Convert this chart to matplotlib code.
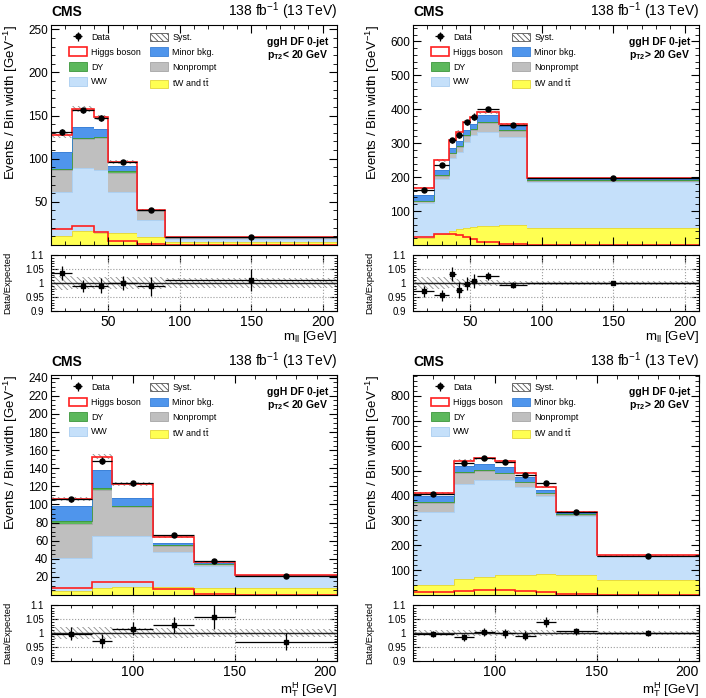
import numpy as np
import matplotlib
matplotlib.use('Agg')
import matplotlib.pyplot as plt
from matplotlib.patches import Patch
from matplotlib.ticker import MultipleLocator, FixedLocator

plt.rcParams['font.family'] = ['Liberation Sans', 'DejaVu Sans']
plt.rcParams['mathtext.fontset'] = 'custom'
plt.rcParams['mathtext.rm'] = 'Liberation Sans'
plt.rcParams['mathtext.it'] = 'Liberation Sans:italic'
plt.rcParams['mathtext.bf'] = 'Liberation Sans:bold'
plt.rcParams['hatch.linewidth'] = 0.6

# ---- top left : m_ll, pT2 < 20 GeV
tl_edges = [10, 25, 40, 50, 70, 90, 210]
tl_tw = [11, 16, 14, 13.5, 9.5, 3]
tl_ww = [50, 73, 73, 47.5, 20, 4.5]
tl_nonprompt = [26, 34, 37, 22.5, 9.5, 1]
tl_dy = [1.5, 1.5, 1.5, 2.5, 1, 0.2]
tl_minor = [19.5, 12.5, 9.5, 6, 0.5, 0.3]
tl_higgs = [19, 21, 13, 4.5, 0.5, 0.5]
tl_higgs_line = [19, 22, 14.5, 5, 1.5, 0.3]
tl_data = [131, 156, 147, 96, 40.5, 9.5]
tl_ratio = [1.035, 0.988, 0.991, 1.0, 0.988, 1.012]
tl_ratio_err = [0.026, 0.021, 0.026, 0.025, 0.035, 0.039]
tl_syst = [0.025, 0.022, 0.022, 0.022, 0.02, 0.018]

# ---- top right : m_ll, pT2 > 20 GeV
tr_edges = [10, 25, 35, 40, 45, 50, 55, 70, 90, 210]
tr_tw = [22, 33, 40, 46, 50, 53, 56, 58, 49]
tr_ww = [102, 160, 216, 228, 252, 272, 278, 259, 136]
tr_nonprompt = [5, 11, 14, 15, 18, 15, 24, 20, 4]
tr_dy = [2, 2, 2, 3, 3, 3, 5, 2, 1]
tr_minor = [15, 16, 14, 15, 17, 14, 21, 12, 3]
tr_higgs = [22, 27, 22, 26, 22, 19, 7, 6, 4]
tr_higgs_line = [25, 31, 31, 28, 25, 17, 10, 3, 1]
tr_data = [162, 237, 308, 324, 361, 378, 401, 354, 197]
tr_ratio = [0.970, 0.956, 1.032, 0.975, 0.998, 1.007, 1.025, 0.994, 1.0]
tr_ratio_err = [0.019, 0.02, 0.026, 0.028, 0.022, 0.025, 0.013, 0.011, 0.008]
tr_syst = [0.022, 0.02, 0.018, 0.016, 0.014, 0.012, 0.01, 0.008, 0.006]

# ---- bottom left : mT^H, pT2 < 20 GeV
bl_edges = [60, 80, 90, 110, 130, 150, 200]
bl_tw = [4.4, 7.4, 8.5, 9.2, 8, 8]
bl_ww = [36.4, 57.6, 57.1, 38.2, 23.5, 13]
bl_nonprompt = [37.8, 51, 31.6, 7.1, 2.5, 0.5]
bl_dy = [3, 2.7, 1.1, 1.1, 0.5, 0.1]
bl_minor = [16.7, 19.6, 9.2, 2.3, 0.5, 0.2]
bl_higgs = [7.4, 14.5, 14.9, 6.2, 1.3, 0.2]
bl_higgs_line = [8.1, 14.8, 14, 6.7, 0.7, 0.3]
bl_data = [105.7, 148.4, 123.5, 66.3, 38, 21.3]
bl_ratio = [0.997, 0.971, 1.016, 1.029, 1.057, 0.969]
bl_ratio_err = [0.023, 0.026, 0.023, 0.029, 0.042, 0.031]
bl_syst = [0.02, 0.02, 0.018, 0.018, 0.016, 0.016]

# ---- bottom right : mT^H, pT2 > 20 GeV
br_edges = [60, 80, 90, 100, 110, 120, 130, 150, 200]
br_tw = [39.6, 65, 73, 80, 80, 82.7, 78.6, 59.7]
br_ww = [292, 381, 389, 383.6, 352.6, 316.3, 239.4, 95.7]
br_nonprompt = [36.4, 43, 38, 25.4, 20.2, 9, 5, 2.1]
br_dy = [6.8, 4, 2.6, 2.5, 1.2, 3, 1, 0.5]
br_minor = [24.2, 27, 24.4, 24.5, 19, 12, 3.6, 0.5]
br_higgs = [11, 20, 22.7, 21.6, 17.7, 9.6, 5.4, 1]
br_higgs_line = [12.6, 18, 22, 22, 18, 12.6, 4.6, 1]
br_data = [405, 530, 549, 534, 484, 449, 332, 157]
br_ratio = [0.996, 0.984, 1.004, 0.999, 0.99, 1.04, 1.006, 1.001]
br_ratio_err = [0.012, 0.012, 0.014, 0.016, 0.016, 0.017, 0.012, 0.011]
br_syst = [0.01, 0.012, 0.01, 0.01, 0.01, 0.01, 0.008, 0.008]

# colours (face, edge)
col_tw = ('#ffff52', '#e2d43c')
col_ww = ('#c5e0fa', '#a9cdf0')
col_np = ('#bfbfbf', '#a5a5a5')
col_dy = ('#5cb85c', '#3c963c')
col_minor = ('#4f95ec', '#3a7fd5')
col_higgs = '#ff1f1f'
col_hatch = '#8c8c8c'

W, H = 706.0, 698.0


def rect(x0, y0, x1, y1):
    # pixel box (top-left origin) -> figure fraction
    return [x0 / W, 1 - y1 / H, (x1 - x0) / W, (y1 - y0) / H]


def draw_panel(ax, rax, edges, tw, ww, nonprompt, dy, minor, higgs, higgs_line,
               data, ratio, ratio_err, syst, ymax, ymajor, yminor, xticks, xlabel,
               xlabel_y, cut_text):
    edges = np.array(edges, dtype=float)
    centers = 0.5 * (edges[1:] + edges[:-1])
    half = 0.5 * (edges[1:] - edges[:-1])

    base = np.zeros(len(tw))
    for vals, (fc, ec) in [(tw, col_tw), (ww, col_ww), (nonprompt, col_np),
                           (dy, col_dy), (minor, col_minor)]:
        top = base + np.array(vals)
        ax.stairs(top, edges, baseline=base, fill=True, color=fc, lw=0)
        ax.stairs(top, edges, baseline=None, color=ec, lw=0.6)
        base = top

    total = base + np.array(higgs)
    ax.stairs(total, edges, baseline=base, fill=True, color='white', lw=0)

    syst = np.array(syst)
    ax.stairs(total * (1 + syst), edges, baseline=total * (1 - syst), fill=True,
              facecolor='none', edgecolor=col_hatch, hatch='\\\\\\\\\\\\', lw=0)
    ax.stairs(total, edges, baseline=None, color=col_higgs, lw=1.2)
    ax.stairs(higgs_line, edges, baseline=None, color=col_higgs, lw=1.2)

    data = np.array(data)
    h_data = ax.errorbar(centers, data, xerr=half, yerr=data * np.array(ratio_err),
                         fmt='o', color='black', ms=3.6, lw=0.9, capsize=0)

    ax.set_xlim(edges[0], edges[-1])
    ax.set_ylim(0, ymax)
    ax.xaxis.set_major_locator(FixedLocator(xticks))
    ax.xaxis.set_minor_locator(MultipleLocator(10))
    ax.yaxis.set_major_locator(FixedLocator(np.arange(ymajor, ymax, ymajor)))
    ax.yaxis.set_minor_locator(MultipleLocator(yminor))
    ax.tick_params(which='both', direction='in', top=True, right=True, labelbottom=False,
                   labelsize=8.5, pad=2)
    ax.tick_params(which='major', length=6)
    ax.tick_params(which='minor', length=3)

    ax.set_ylabel('Events / Bin width [GeV$^{-1}$]', fontsize=9.5, ha='right', va='center')
    ax.yaxis.set_label_coords(-0.14, 1.0)

    ax.text(0.0, 1.04, 'CMS', transform=ax.transAxes, fontsize=10, weight='bold',
            va='baseline', ha='left')
    ax.text(1.0, 1.04, '138 fb$^{-1}$ (13 TeV)', transform=ax.transAxes, fontsize=10,
            va='baseline', ha='right')
    ax.text(0.755, 0.924, 'ggH DF 0-jet', transform=ax.transAxes, fontsize=7.5,
            weight='bold', va='center', ha='left')
    ax.text(0.755, 0.862, cut_text, transform=ax.transAxes, fontsize=7.5,
            weight='bold', va='center', ha='left')

    h_syst = Patch(facecolor='white', edgecolor='#555555', hatch='\\\\\\\\\\\\', lw=0.6)
    h_higgs = Patch(facecolor='white', edgecolor=col_higgs, lw=1.2)
    h_minor = Patch(facecolor=col_minor[0], edgecolor=col_minor[1], lw=0.6)
    h_dy = Patch(facecolor=col_dy[0], edgecolor=col_dy[1], lw=0.6)
    h_np = Patch(facecolor=col_np[0], edgecolor=col_np[1], lw=0.6)
    h_ww = Patch(facecolor=col_ww[0], edgecolor=col_ww[1], lw=0.6)
    h_tw = Patch(facecolor=col_tw[0], edgecolor=col_tw[1], lw=0.6)
    handles = [h_data, h_higgs, h_dy, h_ww, h_syst, h_minor, h_np, h_tw]
    labels = ['Data', 'Higgs boson', 'DY', 'WW', 'Syst.', 'Minor bkg.', 'Nonprompt',
              r'tW and t$\bar{\rm t}$']
    ax.legend(handles, labels, ncol=2, loc='upper left', bbox_to_anchor=(0.062, 0.965),
              frameon=False, fontsize=6.4, borderaxespad=0, borderpad=0,
              handlelength=2.05, handleheight=1.1, labelspacing=0.62,
              handletextpad=0.45, columnspacing=1.05)

    # ratio
    rax.stairs(1 + syst, edges, baseline=1 - syst, fill=True, facecolor='none',
               edgecolor=col_hatch, hatch='\\\\\\\\\\\\', lw=0)
    for yv in [0.95, 1.0, 1.05]:
        rax.axhline(yv, color='#9a9a9a', lw=0.8, ls=':')
    for xv in xticks:
        if edges[0] < xv < edges[-1]:
            rax.axvline(xv, color='#9a9a9a', lw=0.8, ls=':')
    rax.axhline(1.0, color='#222222', lw=1.0)
    rax.errorbar(centers, ratio, xerr=half, yerr=ratio_err, fmt='s', color='black',
                 ms=2.8, lw=0.9, capsize=0)
    rax.set_xlim(edges[0], edges[-1])
    rax.set_ylim(0.9, 1.1)
    rax.yaxis.set_major_locator(FixedLocator([0.9, 0.95, 1.0, 1.05, 1.1]))
    rax.set_yticklabels(['0.9', '0.95', '1', '1.05', '1.1'])
    rax.yaxis.set_minor_locator(MultipleLocator(0.01))
    rax.xaxis.set_major_locator(FixedLocator(xticks))
    rax.set_xticklabels([str(t) for t in xticks])
    rax.xaxis.set_minor_locator(MultipleLocator(10))
    rax.tick_params(which='both', direction='in', top=True, right=True)
    rax.tick_params(axis='y', labelsize=7, pad=5)
    rax.tick_params(axis='x', labelsize=10, pad=3)
    rax.tick_params(which='major', length=5)
    rax.tick_params(which='minor', length=2.5)
    # last label sitting on the frame edge is pulled inside, as in the original
    if xticks[-1] == edges[-1]:
        rax.get_xticklabels()[-1].set_horizontalalignment('right')
    rax.set_ylabel('Data/Expected', fontsize=6.8, va='center')
    rax.yaxis.set_label_coords(-0.15, 0.5)
    rax.set_xlabel(xlabel, fontsize=9.5, ha='right', va='center')
    rax.xaxis.set_label_coords(1.0, xlabel_y)


def main():
    fig = plt.figure(figsize=(7.06, 6.98), dpi=100)

    ax1 = fig.add_axes(rect(51, 25, 337, 245))
    r1 = fig.add_axes(rect(51, 255, 337, 311))
    ax2 = fig.add_axes(rect(413, 25, 699, 245))
    r2 = fig.add_axes(rect(413, 255, 699, 311))
    ax3 = fig.add_axes(rect(51, 375, 337, 595))
    r3 = fig.add_axes(rect(51, 605, 337, 661))
    ax4 = fig.add_axes(rect(413, 375, 699, 595))
    r4 = fig.add_axes(rect(413, 605, 699, 661))

    mll = r'm$_{\rm ll}$ [GeV]'
    mth = r'm$_{\rm T}^{\rm H}$ [GeV]'
    low = r'p$_{\mathbf{T2}}$< 20 GeV'
    high = r'p$_{\mathbf{T2}}$> 20 GeV'
    mll_ticks = [50, 100, 150, 200]
    mth_ticks = [100, 150, 200]

    draw_panel(ax1, r1, tl_edges, tl_tw, tl_ww, tl_nonprompt, tl_dy, tl_minor, tl_higgs,
               tl_higgs_line, tl_data, tl_ratio, tl_ratio_err, tl_syst,
               255, 50, 10, mll_ticks, mll, -0.46, low)
    draw_panel(ax2, r2, tr_edges, tr_tw, tr_ww, tr_nonprompt, tr_dy, tr_minor, tr_higgs,
               tr_higgs_line, tr_data, tr_ratio, tr_ratio_err, tr_syst,
               648, 100, 20, mll_ticks, mll, -0.46, high)
    draw_panel(ax3, r3, bl_edges, bl_tw, bl_ww, bl_nonprompt, bl_dy, bl_minor, bl_higgs,
               bl_higgs_line, bl_data, bl_ratio, bl_ratio_err, bl_syst,
               243, 20, 5, mth_ticks, mth, -0.52, low)
    draw_panel(ax4, r4, br_edges, br_tw, br_ww, br_nonprompt, br_dy, br_minor, br_higgs,
               br_higgs_line, br_data, br_ratio, br_ratio_err, br_syst,
               884, 100, 20, mth_ticks, mth, -0.52, high)

    fig.savefig('out.png', dpi=100)


if __name__ == '__main__':
    main()
